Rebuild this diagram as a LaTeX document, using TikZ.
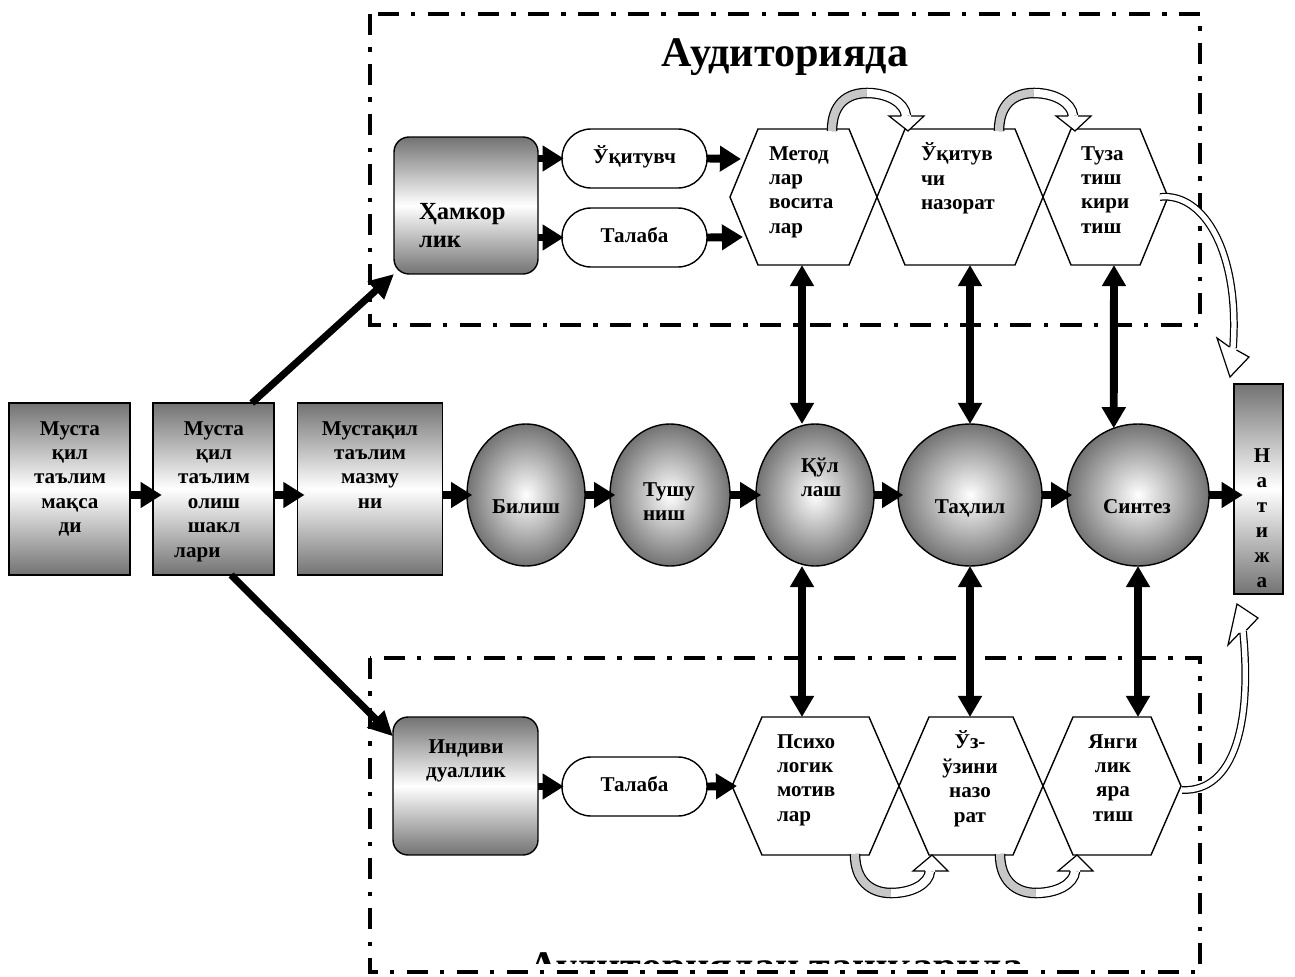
\documentclass[tikz,border=0pt]{standalone}
\usepackage{fontspec}
\setmainfont{Liberation Serif}
\usetikzlibrary{arrows.meta,shapes.geometric}
\begin{document}
\begin{tikzpicture}[x=0.02cm,y=-0.02cm,
  every node/.style={inner sep=0pt,outer sep=0pt},
  lbl/.style={font=\fontsize{12}{13.9}\selectfont\bfseries,align=center,anchor=north},
  lbll/.style={font=\fontsize{12}{13.9}\selectfont\bfseries,align=left,anchor=north west},
  ttl/.style={font=\fontsize{24}{28}\selectfont\bfseries,anchor=base},
  frame/.style={line width=2.3pt,dash pattern=on 12pt off 7pt on 2.5pt off 7pt},
  gbox/.style={draw,line width=0.8pt,rectangle,top color=black!55,bottom color=black!55,middle color=white},
  rbox/.style={gbox,rounded corners=0.3cm},
  ball/.style={draw,line width=0.8pt,ellipse,inner color=white,outer color=black!55},
  pill/.style={draw,line width=0.8pt,rectangle,rounded corners=0.58cm,fill=white,minimum width=2.9cm,minimum height=1.18cm,font=\fontsize{12}{13.9}\selectfont\bfseries},
  hexa/.style={draw,line width=0.8pt,fill=white},
  bar/.style={line width=4.5pt,-{Triangle[length=12pt,width=14pt]}},
  dbar/.style={line width=4.5pt,{Triangle[length=12pt,width=13pt]}-{Triangle[length=12pt,width=13pt]}},
  diag/.style={line width=4pt,-{Triangle[length=14pt,width=13pt]}},
  band/.style={line width=0.7pt,double distance=4.6pt},
  tband/.style={line width=0.7pt,double=white,double distance=3pt},
  head/.style={line width=0.7pt,fill=white,line join=miter},
]
\useasboundingbox (0,0) rectangle (1295,977);
% frames
\draw[frame] (370,14) rectangle (1200,325);
\draw[frame] (370,658) rectangle (1200,972);
\node[ttl] (top) at (785,66) {Аудиторияда};
\begin{scope}
\clip (0,0) rectangle (1295,963);
\node[ttl] (bot) at (776,980) {Аудиториядан ташқарида};
\end{scope}

% left boxes
\node[gbox,minimum width=2.42cm,minimum height=3.44cm] (b1) at (69.5,489) {};
\node[gbox,minimum width=2.42cm,minimum height=3.44cm] (b2) at (213.5,489) {};
\node[gbox,minimum width=2.9cm,minimum height=3.44cm] (b3) at (370,489) {};
\node[lbl] (b1t) at (70,418) {\strut Муста\\қил\\таълим\\мақса\\ди};
\node[lbl] (b2t) at (214,418) {\strut Муста\\қил\\таълим\\олиш\\шакл\\лари\kern19pt};
\node[lbl] (b3t) at (370,418) {\strut Мустақил\\таълим\\мазму\\ни};

% ellipses
\node[ball,minimum width=2.36cm,minimum height=2.84cm] (e1) at (526,495) {};
\node[ball,minimum width=2.4cm,minimum height=2.84cm] (e2) at (670,495) {};
\node[ball,minimum width=2.36cm,minimum height=2.84cm] (e3) at (815,495) {};
\node[ball,minimum width=2.88cm,minimum height=2.84cm] (e4) at (970,495) {};
\node[ball,minimum width=2.84cm,minimum height=2.84cm] (e5) at (1138,495) {};
\node[lbl] (e1t) at (526,496) {\strut Билиш};
\node[lbll] (e2t) at (643,479) {\strut Тушу\\ниш};
\node[lbll] (e3t) at (801,455) {\strut Қўл\\лаш};
\node[lbl] (e4t) at (970,496) {\strut Таҳлил};
\node[lbl] (e5t) at (1137,496) {\strut Синтез};

% result
\node[gbox,minimum width=0.98cm,minimum height=4.2cm] (nat) at (1258.5,489) {};
\node[lbl,font=\fontsize{12}{14.2}\selectfont\bfseries] (natt) at (1262,445) {\strut Н\\а\\т\\и\\ж\\а};

% top section
\node[rbox,minimum width=2.88cm,minimum height=2.74cm] (ham) at (466,205.5) {};
\node[lbll,font=\fontsize{14}{16}\selectfont\bfseries] (hamt) at (419,200) {\strut Ҳамкор\\лик};
\node[pill] (uq) at (634.5,158.5) {\strut Ўқитувч};
\node[pill] (ta1) at (634.5,237.5) {\strut Талаба};
\draw[hexa] (730,197) -- (758,129) -- (849,129) -- (877,197) -- (849,265) -- (758,265) -- cycle;
\draw[hexa] (877,197) -- (905,129) -- (1015,129) -- (1043,197) -- (1015,265) -- (905,265) -- cycle;
\draw[hexa] (1043,197) -- (1071,129) -- (1140,129) -- (1168,197) -- (1140,265) -- (1071,265) -- cycle;
\node[lbll] (h1t) at (769,143) {\strut Метод\\лар\\восита\\лар};
\node[lbll] (h2t) at (921,143) {\strut Ўқитув\\чи\\назорат};
\node[lbll] (h3t) at (1081,143) {\strut Туза\\тиш\\кири\\тиш};

% bottom section
\node[rbox,minimum width=2.9cm,minimum height=2.76cm] (ind) at (465.5,786) {};
\node[lbl] (indt) at (466,736) {\strut Индиви\\дуаллик};
\node[pill] (ta2) at (634.5,786.5) {\strut Талаба};
\draw[hexa] (732,786) -- (762,717) -- (869,717) -- (899,786) -- (869,855) -- (762,855) -- cycle;
\draw[hexa] (899,786) -- (929,717) -- (1013,717) -- (1043,786) -- (1013,855) -- (929,855) -- cycle;
\draw[hexa] (1043,786) -- (1073,717) -- (1151,717) -- (1181,786) -- (1151,855) -- (1073,855) -- cycle;
\node[lbll] (h4t) at (777,731) {\strut Психо\\логик\\мотив\\лар};
\node[lbl] (h5t) at (970,731) {\strut Ўз-\\ўзини\\назо\\рат};
\node[lbl] (h6t) at (1113,731) {\strut Янги\\лик\\яра\\тиш};

% connector ends on hexagons
\coordinate (h1a) at (741,159);
\coordinate (h1b) at (743,237);
\coordinate (h4w) at (737,786);
\coordinate (h1s) at (802,265);
\coordinate (h2s) at (970,265);
\coordinate (h3s) at (1114,265);
\coordinate (h4n) at (802,717);
\coordinate (h5n) at (970,717);
\coordinate (h6n) at (1138,717);

% straight arrows
\draw[bar,shorten >=-5pt] (b1.east |- e1.center) -- (b2.west |- e1.center);
\draw[bar,shorten >=-4pt] (b2.east |- e1.center) -- (b3.west |- e1.center);
\draw[bar,shorten >=-3pt] (b3.east |- e1.center) -- (e1.west);
\draw[bar,shorten >=-3pt] (e1.east) -- (e2.west);
\draw[bar,shorten >=-3pt] (e2.east) -- (e3.west);
\draw[bar,shorten >=-3pt] (e3.east) -- (e4.west);
\draw[bar,shorten >=-3pt] (e4.east) -- (e5.west);
\draw[bar,shorten >=-5pt] (e5.east) -- (nat.west |- e5.east);
\draw[bar,shorten >=-1pt] (ham.east |- uq.center) -- (uq.west);
\draw[bar,shorten >=-1pt] (ham.east |- ta1.center) -- (ta1.west);
\draw[bar] (uq.east) -- (h1a);
\draw[bar] (ta1.east) -- (h1b);
\draw[bar,shorten >=-1pt] (ind.east |- ta2.center) -- (ta2.west);
\draw[bar] (ta2.east) -- (h4w);
\draw[dbar] (h1s) -- (h1s |- e3.north);
\draw[dbar] (h2s) -- (h2s |- e4.north);
\draw[dbar] (h3s) -- (e5.110);
\draw[dbar] (h4n |- e3.south) -- (h4n);
\draw[dbar] (h5n |- e4.south) -- (h5n);
\draw[dbar] (e5.south) -- (h6n);
\draw[diag] ([xshift=21.8pt]b2.north) -- (ham.south west);
\draw[diag] ([xshift=10pt]b2.south) -- ([yshift=-11pt]ind.north west);

% curved block arrows (top)
\draw[band,double=black!22] (832,131) .. controls (832,105) and (846,93) .. (867,93);
\draw[band,double=white] (867,93) .. controls (888,93) and (905,103) .. (906,116);
\filldraw[head] (901,116) -- (889,116) -- (908,131) -- (924,116) -- (911,116);
\draw[band,double=black!22] (999,131) .. controls (999,105) and (1013,93) .. (1034,93);
\draw[band,double=white] (1034,93) .. controls (1055,93) and (1072,103) .. (1073,116);
\filldraw[head] (1068,116) -- (1056,116) -- (1075,131) -- (1091,116) -- (1078,116);
% curved block arrows (bottom)
\draw[band,double=black!22] (855,854) .. controls (855,880) and (870,893) .. (891,893);
\draw[band,double=white] (891,893) .. controls (912,893) and (929,884) .. (930,871);
\filldraw[head] (925,871) -- (913,871) -- (932,855) -- (948,871) -- (935,871);
\draw[band,double=black!22] (1000,854) .. controls (1000,880) and (1015,893) .. (1036,893);
\draw[band,double=white] (1036,893) .. controls (1057,893) and (1074,884) .. (1075,871);
\filldraw[head] (1070,871) -- (1058,871) -- (1077,855) -- (1093,871) -- (1080,871);
% long curved arrows to the result
\draw[tband] (1160,197) .. controls (1205,192) and (1240,255) .. (1233,348);
\filldraw[head] (1229.5,347) -- (1217,338) -- (1230,377) -- (1249,357) -- (1236.5,350);
\draw[tband] (1182,790) .. controls (1235,792) and (1252,722) .. (1243,631);
\filldraw[head] (1239.5,633) -- (1228,645) -- (1237,604) -- (1258,618) -- (1246.5,630);
\end{tikzpicture}
\end{document}
